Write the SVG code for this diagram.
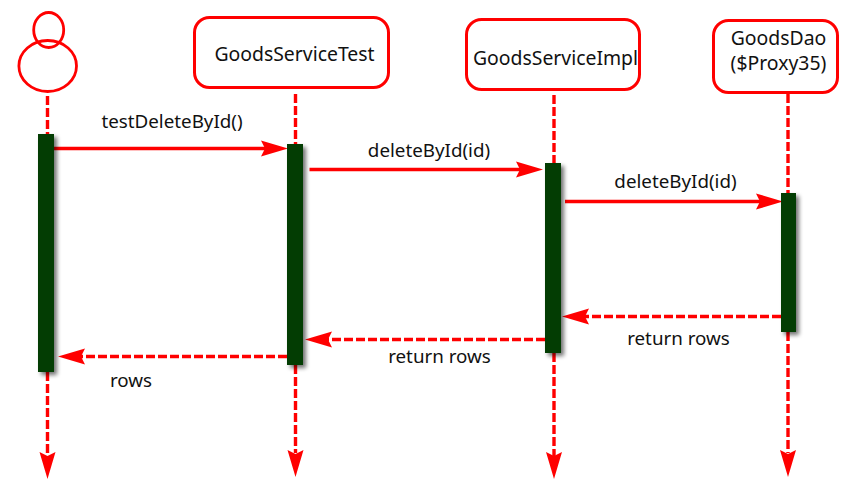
<svg xmlns="http://www.w3.org/2000/svg" width="861" height="493" viewBox="0 0 861 493">
<style>
.box{fill:#fff;stroke:#f00;stroke-width:3}
.bar{fill:#033d03}
.life{stroke:#f00;stroke-width:3.400;stroke-dasharray:9 3;fill:none}
.msg{stroke:#f00;stroke-width:3.400;fill:none}
.ret{stroke:#f00;stroke-width:3.400;stroke-dasharray:9 3;fill:none}
.head{fill:#f00}
text{font-family:"Noto Sans","Open Sans","Liberation Sans",sans-serif;font-size:18.800px;fill:#111;text-anchor:middle}
.name{font-size:19.400px}
</style>
<defs>
<filter id="sh" x="-60%" y="-5%" width="220%" height="110%"><feGaussianBlur stdDeviation="2.2"/></filter>
<path id="ar" d="M0 0L-27 -8L-23 0L-27 8Z" class="head"/>
</defs>
<rect width="861" height="493" fill="#fff"/>
<g id="connectors">
<path class="life" d="M47.500 96V134M47.500 372V455"/>
<path class="life" d="M295.500 94V144M295.500 365V453"/>
<path class="life" d="M554 95V163M554 353V456"/>
<path class="life" d="M788 94V193M788 332V453"/>
<use href="#ar" transform="translate(47.500 479) rotate(90)"/>
<use href="#ar" transform="translate(295.500 477) rotate(90)"/>
<use href="#ar" transform="translate(554 479) rotate(90)"/>
<use href="#ar" transform="translate(788 477) rotate(90)"/>
<path class="msg" d="M54 148.500H268"/><use href="#ar" transform="translate(288 148.500)"/>
<path class="msg" d="M309.500 169.500H525"/><use href="#ar" transform="translate(543 169.500)"/>
<path class="msg" d="M565 201.500H762"/><use href="#ar" transform="translate(783 201.500)"/>
<path class="ret" d="M781 316.500H582"/><use href="#ar" transform="translate(562 316.500) rotate(180)"/>
<path class="ret" d="M545 339.500H325"/><use href="#ar" transform="translate(305 339.500) rotate(180)"/>
<path class="ret" d="M287 356.500H78"/><use href="#ar" transform="translate(58 356.500) rotate(180)"/>
</g>
<g id="actor" fill="none" stroke="#f00" stroke-width="2.800">
<ellipse cx="48.700" cy="30" rx="15" ry="17.500"/>
<ellipse cx="47.700" cy="66" rx="28.800" ry="25.500"/>
</g>
<g id="node-test"><rect class="box" x="194.500" y="17.500" width="194" height="70" rx="15"/><text class="name" x="294.500" y="60.500">GoodsServiceTest</text></g>
<g id="node-impl"><rect class="box" x="466.500" y="19.500" width="173" height="70" rx="15"/><text class="name" x="555.500" y="64.500">GoodsServiceImpl</text></g>
<g id="node-dao"><rect class="box" x="713.500" y="20.500" width="124" height="72" rx="15"/><text class="name" x="778.500" y="44.500">GoodsDao</text><text class="name" x="778.500" y="69.500">($Proxy35)</text></g>
<g id="bars">
<rect x="41" y="137" width="16" height="238" fill="#000" opacity=".55" filter="url(#sh)"/>
<rect x="290" y="147" width="16" height="221" fill="#000" opacity=".55" filter="url(#sh)"/>
<rect x="548" y="166" width="16" height="190" fill="#000" opacity=".55" filter="url(#sh)"/>
<rect x="784" y="196" width="15" height="139" fill="#000" opacity=".55" filter="url(#sh)"/>
<rect class="bar" x="38" y="134" width="16" height="238"/>
<rect class="bar" x="287" y="144" width="16" height="221"/>
<rect class="bar" x="545" y="163" width="16" height="190"/>
<rect class="bar" x="781" y="193" width="15" height="139"/>
</g>
<g id="labels">
<text x="172" y="128">testDeleteById()</text>
<text x="429" y="157">deleteById(id)</text>
<text x="675.500" y="188">deleteById(id)</text>
<text x="678.500" y="345">return rows</text>
<text x="439.500" y="363">return rows</text>
<text x="131" y="387">rows</text>
</g>
</svg>
